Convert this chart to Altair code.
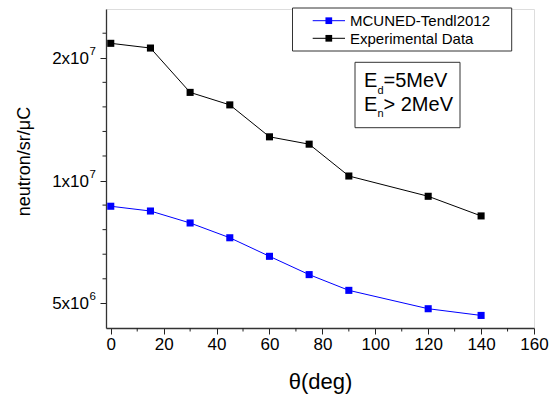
import altair as alt
import pandas as pd

# ---- data ----
angles = [0, 15, 30, 45, 60, 75, 90, 120, 140]
mcuned = [8.65e6, 8.42e6, 7.87e6, 7.24e6, 6.52e6, 5.88e6, 5.38e6, 4.85e6, 4.67e6]
experimental = [2.17e7, 2.113e7, 1.645e7, 1.533e7, 1.28e7, 1.228e7, 1.026e7, 9.15e6, 8.19e6]
series_names = ["MCUNED-Tendl2012", "Experimental Data"]
series_colors = ["#0000ff", "#000000"]

x_major = [0, 20, 40, 60, 80, 100, 120, 140, 160]
x_minor = [10, 30, 50, 70, 90, 110, 130, 150]
y_major = [5e6, 1e7, 2e7]
y_mant = ["5x10", "1x10", "2x10"]
y_exp = ["6", "7", "7"]
y_minor = [5.743e6, 6.598e6, 7.579e6, 8.706e6,
           1.1487e7, 1.3195e7, 1.5157e7, 1.7411e7, 2.2974e7]

FONT = "Liberation Sans"
W, H = 428, 319

rows = []
for a, v in zip(angles, mcuned):
    rows.append({"angle": a, "value": v, "series": series_names[0]})
for a, v in zip(angles, experimental):
    rows.append({"angle": a, "value": v, "series": series_names[1]})
df = pd.DataFrame(rows)

xscale = alt.Scale(domain=[-1.8, 160], nice=False, zero=False)
yscale = alt.Scale(type="log", domain=[4.35e6, 2.634e7], nice=False)
cscale = alt.Scale(domain=series_names, range=series_colors)

xaxis = alt.Axis(values=x_major, title="θ(deg)", titleFontSize=22, titleFont=FONT,
                 titleFontWeight="normal", titleColor="black", titleY=60,
                 titleBaseline="alphabetic",
                 labelFont=FONT, labelFontSize=17, labelColor="black", labelPadding=2,
                 tickSize=6, tickColor="#222", domainColor="#333", domainWidth=1.3,
                 grid=False, format="d", labelFlush=False)
yaxis = alt.Axis(values=y_major, labels=False, title="neutron/sr/μC", titleFontSize=18,
                 titleFont=FONT, titleFontWeight="normal", titleColor="black",
                 titleX=-77, titleY=152, titleAngle=270, titleBaseline="alphabetic",
                 tickSize=6, tickColor="#222", domainColor="#333", domainWidth=1.3,
                 grid=False)

base = alt.Chart(df)
lines = base.mark_line(strokeWidth=1).encode(
    x=alt.X("angle:Q", scale=xscale, axis=xaxis),
    y=alt.Y("value:Q", scale=yscale, axis=yaxis),
    color=alt.Color("series:N", scale=cscale, legend=None),
)
points = base.mark_point(shape="square", filled=True, size=50, opacity=1).encode(
    x=alt.X("angle:Q", scale=xscale),
    y=alt.Y("value:Q", scale=yscale),
    color=alt.Color("series:N", scale=cscale, legend=None),
)

# minor ticks
xminor = alt.Chart(pd.DataFrame({"v": x_minor})).mark_rule(color="#222", strokeWidth=1).encode(
    x=alt.X("v:Q", scale=xscale), y=alt.value(H), y2=alt.value(H + 3.5))
yminor = alt.Chart(pd.DataFrame({"v": y_minor})).mark_rule(color="#222", strokeWidth=1).encode(
    y=alt.Y("v:Q", scale=yscale), x=alt.value(-3.5), x2=alt.value(0))

# y tick labels with superscript exponents
ylab_df = pd.DataFrame({"v": y_major, "mant": y_mant, "exp": y_exp})
ylab = alt.Chart(ylab_df).mark_text(align="right", baseline="middle", font=FONT,
                                    fontSize=17, color="black", dy=1).encode(
    y=alt.Y("v:Q", scale=yscale), x=alt.value(-17), text="mant:N")
yexp = alt.Chart(ylab_df).mark_text(align="left", baseline="middle", font=FONT,
                                    fontSize=11.5, color="black", dy=-6).encode(
    y=alt.Y("v:Q", scale=yscale), x=alt.value(-16.5), text="exp:N")

layers = [lines, points, xminor, yminor, ylab, yexp]

# legend box (manual)
one = alt.Data(values=[{}])
layers.append(alt.Chart(one).mark_rect(fill="white", stroke="#333", strokeWidth=1).encode(
    x=alt.value(186.5), x2=alt.value(405.7), y=alt.value(-1), y2=alt.value(42)))
for i, (name, col) in enumerate(zip(series_names, series_colors)):
    yy = 11.7 + i * 17.6
    layers.append(alt.Chart(one).mark_rule(color=col, strokeWidth=1).encode(
        x=alt.value(206.7), x2=alt.value(239), y=alt.value(yy)))
    layers.append(alt.Chart(one).mark_point(shape="square", filled=True, size=45,
                                            color=col, opacity=1).encode(
        x=alt.value(222.8), y=alt.value(yy)))
    layers.append(alt.Chart(one).mark_text(align="left", baseline="middle", font=FONT,
                                           fontSize=15, color="black").encode(
        x=alt.value(244), y=alt.value(yy + 0.5), text=alt.value(name)))

# annotation box
layers.append(alt.Chart(one).mark_rect(fill="white", stroke="#333", strokeWidth=1).encode(
    x=alt.value(249), x2=alt.value(354), y=alt.value(53.3), y2=alt.value(118.7)))
ann = [("E", "d", "=5MeV", 78.3), ("E", "n", "> 2MeV", 101.7)]
for big, sub, rest, yb in ann:
    layers.append(alt.Chart(one).mark_text(align="left", baseline="alphabetic", font=FONT,
                                           fontSize=20, color="black").encode(
        x=alt.value(258), y=alt.value(yb), text=alt.value(big)))
    layers.append(alt.Chart(one).mark_text(align="left", baseline="alphabetic", font=FONT,
                                           fontSize=11, color="black").encode(
        x=alt.value(271.5), y=alt.value(yb + 6.5), text=alt.value(sub)))
    layers.append(alt.Chart(one).mark_text(align="left", baseline="alphabetic", font=FONT,
                                           fontSize=20, color="black").encode(
        x=alt.value(277.5), y=alt.value(yb), text=alt.value(rest)))

chart = alt.layer(*layers).properties(
    width=W, height=H,
    autosize=alt.AutoSizeParams(type="none"),
    padding={"left": 106, "top": 9, "right": 17, "bottom": 66},
).configure_view(stroke=None).configure(background="white")

chart.save("out.html", embed_options={"renderer": "svg", "actions": False})
